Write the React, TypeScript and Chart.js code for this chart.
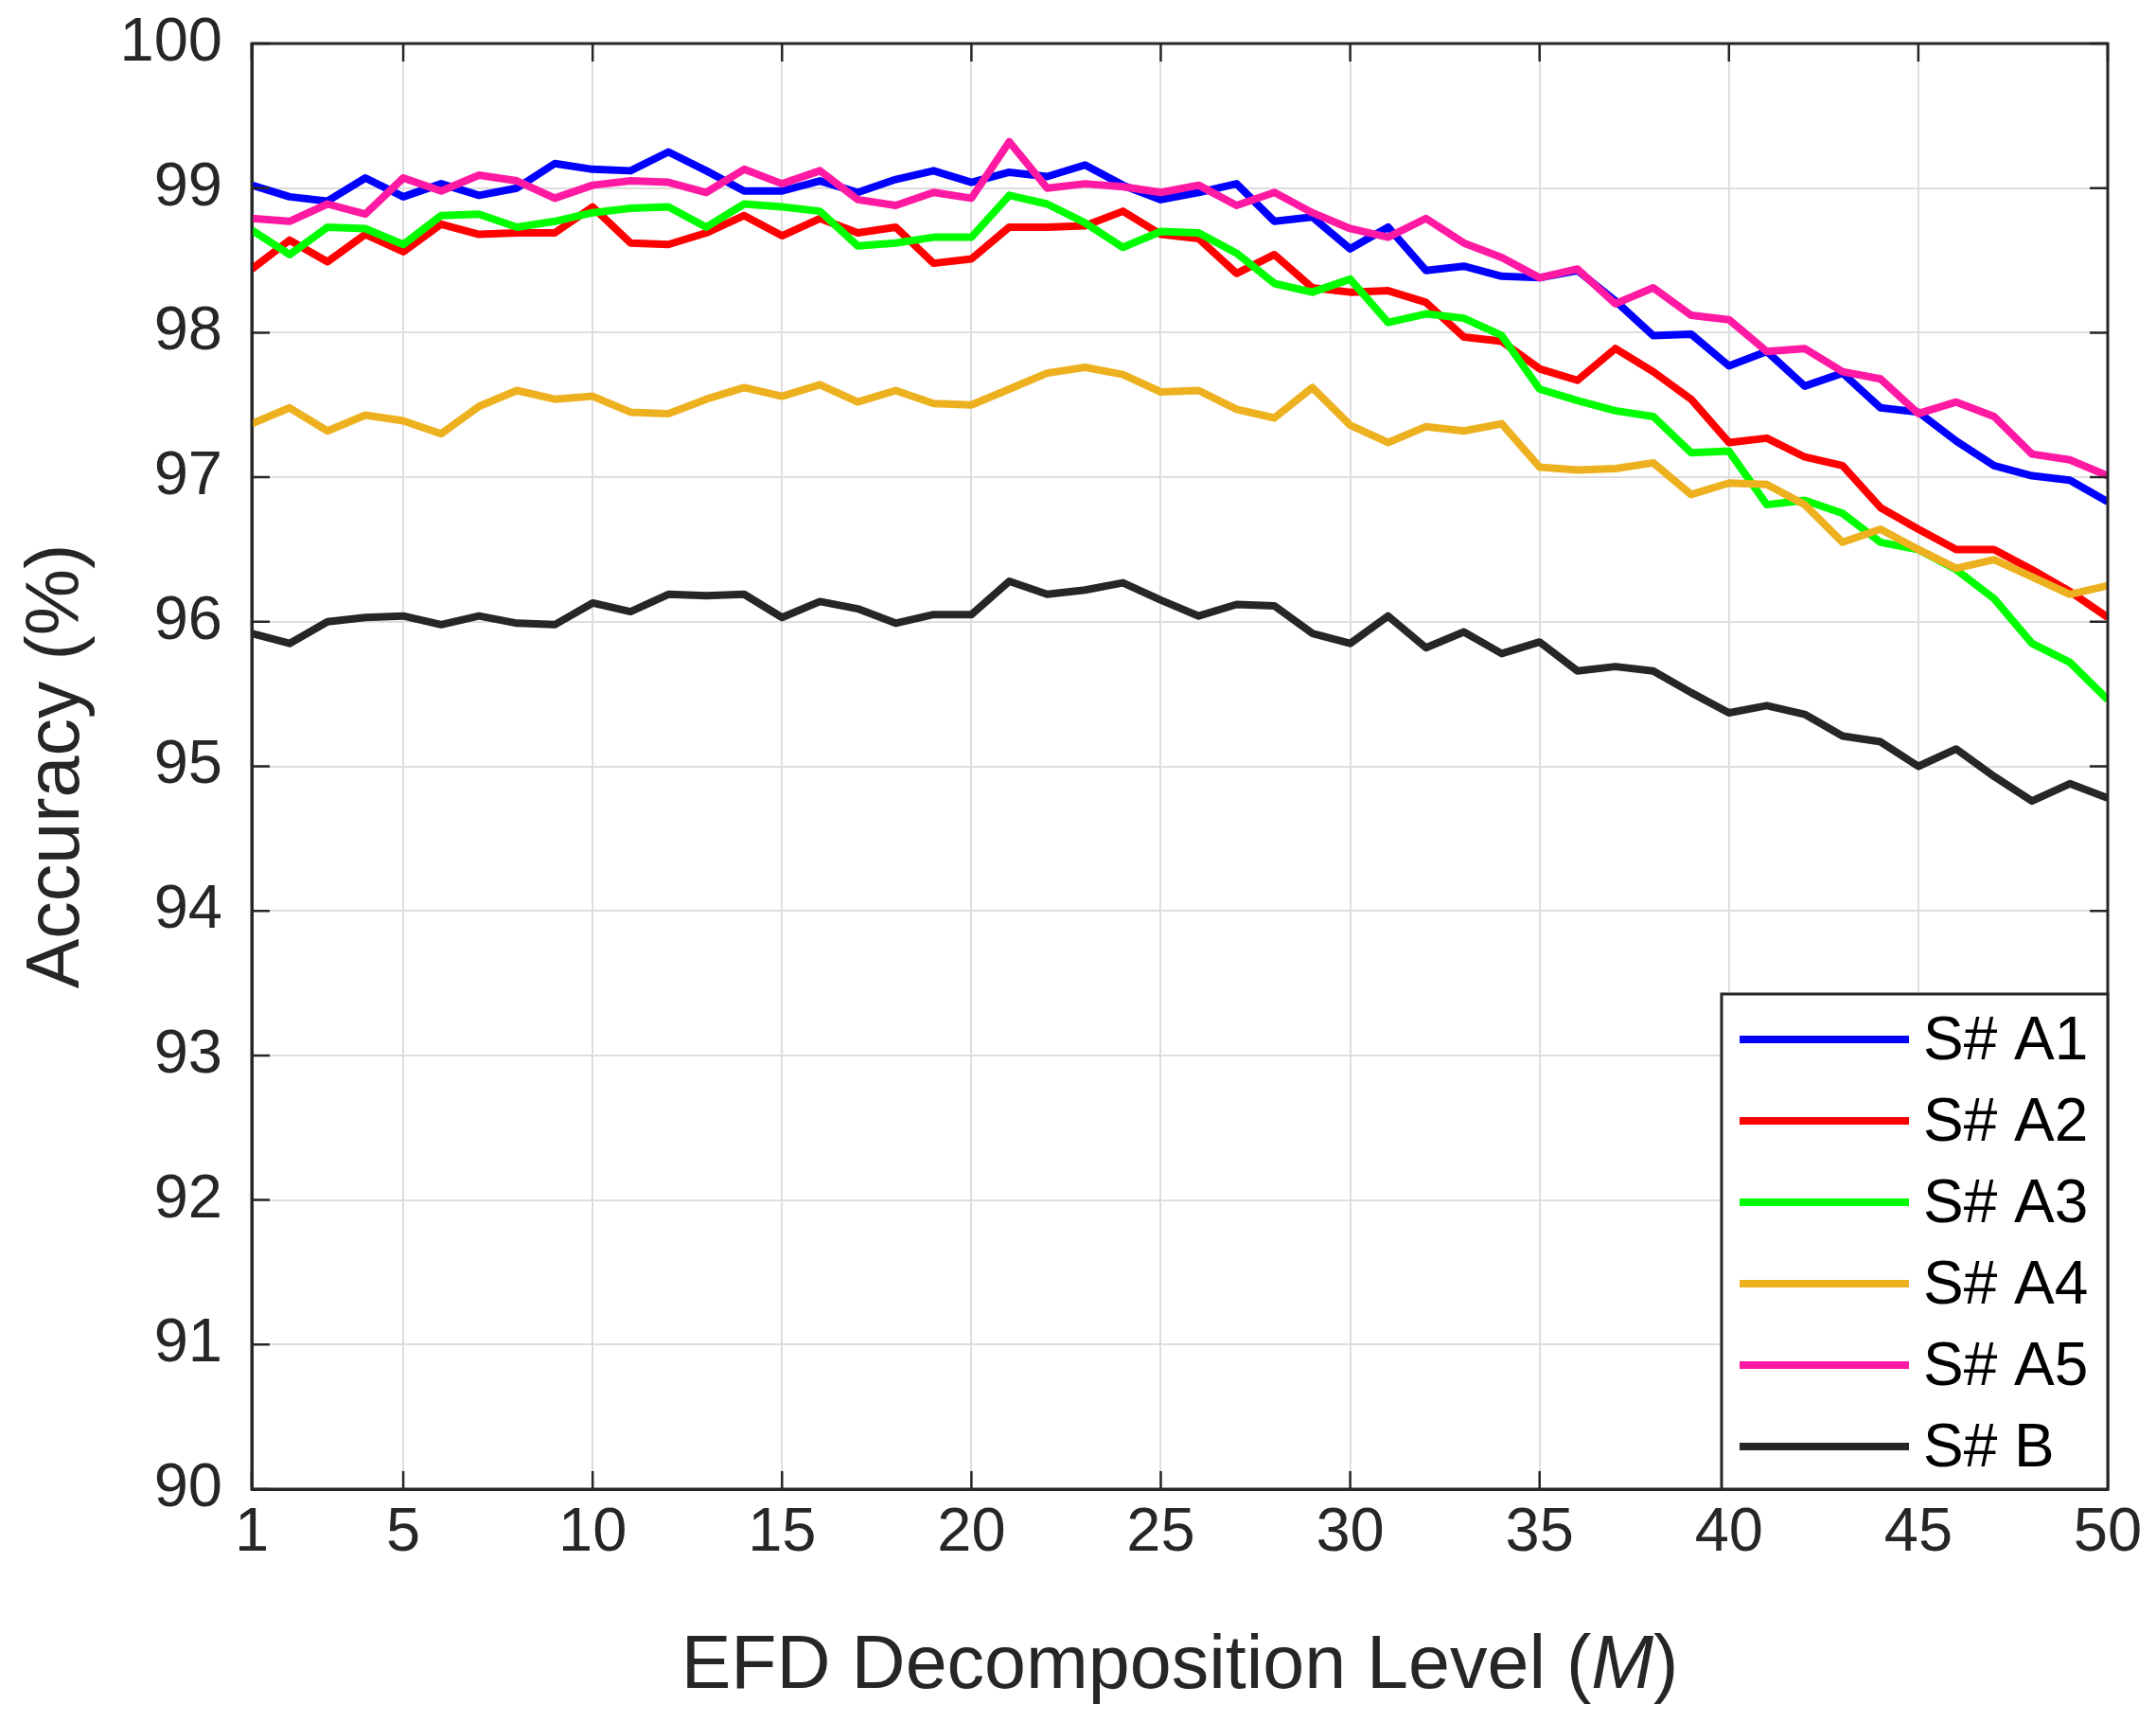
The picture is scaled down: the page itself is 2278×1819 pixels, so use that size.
import { useEffect, useRef } from 'react';
import Chart from 'chart.js/auto';

// EFD decomposition level M
const levels = [
  1, 2, 3, 4, 5, 6, 7, 8, 9, 10, 11, 12, 13, 14, 15, 16, 17, 18, 19, 20, 21, 22, 23, 24, 25,
  26, 27, 28, 29, 30, 31, 32, 33, 34, 35, 36, 37, 38, 39, 40, 41, 42, 43, 44, 45, 46, 47, 48, 49, 50,
];

const xTickValues = [1, 5, 10, 15, 20, 25, 30, 35, 40, 45, 50];

const seriesNames = ['S# A1', 'S# A2', 'S# A3', 'S# A4', 'S# A5', 'S# B'];
const seriesColors = ['#0000ff', '#ff0000', '#00ff00', '#edb120', '#ff19a3', '#262626'];

const accA1 = [
  99.02, 98.94, 98.91, 99.07, 98.94, 99.03, 98.95, 99.0, 99.17, 99.13,
  99.12, 99.25, 99.12, 98.98, 98.98, 99.05, 98.97, 99.06, 99.12, 99.04,
  99.11, 99.08, 99.16, 99.02, 98.92, 98.97, 99.03, 98.77, 98.8, 98.58,
  98.73, 98.43, 98.46, 98.39, 98.38, 98.43, 98.22, 97.98, 97.99, 97.77,
  97.87, 97.63, 97.72, 97.48, 97.45, 97.25, 97.08, 97.01, 96.98, 96.83,
];

const accA2 = [
  98.44, 98.64, 98.49, 98.68, 98.56, 98.75, 98.68, 98.69, 98.69, 98.87,
  98.62, 98.61, 98.69, 98.81, 98.67, 98.79, 98.69, 98.73, 98.48, 98.51,
  98.73, 98.73, 98.74, 98.84, 98.68, 98.65, 98.41, 98.54, 98.31, 98.28,
  98.29, 98.21, 97.97, 97.94, 97.75, 97.67, 97.89, 97.73, 97.54, 97.24,
  97.27, 97.14, 97.08, 96.79, 96.64, 96.5, 96.5, 96.36, 96.21, 96.03,
];

const accA3 = [
  98.71, 98.54, 98.73, 98.72, 98.61, 98.81, 98.82, 98.73, 98.77, 98.83,
  98.86, 98.87, 98.73, 98.89, 98.87, 98.84, 98.6, 98.62, 98.66, 98.66,
  98.95, 98.89, 98.76, 98.59, 98.7, 98.69, 98.55, 98.34, 98.28, 98.37,
  98.07, 98.13, 98.1, 97.98, 97.61, 97.53, 97.46, 97.42, 97.17, 97.18,
  96.81, 96.84, 96.75, 96.55, 96.5, 96.36, 96.16, 95.85, 95.72, 95.46,
];

const accA4 = [
  97.37, 97.48, 97.32, 97.43, 97.39, 97.3, 97.49, 97.6, 97.54, 97.56,
  97.45, 97.44, 97.54, 97.62, 97.56, 97.64, 97.52, 97.6, 97.51, 97.5,
  97.61, 97.72, 97.76, 97.71, 97.59, 97.6, 97.47, 97.41, 97.62, 97.36,
  97.24, 97.35, 97.32, 97.37, 97.07, 97.05, 97.06, 97.1, 96.88, 96.96,
  96.95, 96.81, 96.55, 96.64, 96.5, 96.37, 96.43, 96.31, 96.19, 96.25,
];

const accA5 = [
  98.79, 98.77, 98.89, 98.82, 99.07, 98.98, 99.09, 99.05, 98.93, 99.02,
  99.05, 99.04, 98.97, 99.13, 99.03, 99.12, 98.92, 98.88, 98.97, 98.93,
  99.32, 99.0, 99.03, 99.01, 98.97, 99.02, 98.88, 98.97, 98.83, 98.72,
  98.66, 98.79, 98.62, 98.52, 98.38, 98.44, 98.2, 98.31, 98.12, 98.09,
  97.87, 97.89, 97.73, 97.68, 97.44, 97.52, 97.42, 97.16, 97.12, 97.01,
];

const accB = [
  95.92, 95.85, 96.0, 96.03, 96.04, 95.98, 96.04, 95.99, 95.98, 96.13,
  96.07, 96.19, 96.18, 96.19, 96.03, 96.14, 96.09, 95.99, 96.05, 96.05,
  96.28, 96.19, 96.22, 96.27, 96.15, 96.04, 96.12, 96.11, 95.92, 95.85,
  96.04, 95.82, 95.93, 95.78, 95.86, 95.66, 95.69, 95.66, 95.51, 95.37,
  95.42, 95.36, 95.21, 95.17, 95.0, 95.12, 94.93, 94.76, 94.88, 94.78,
];

const allSeries = [accA1, accA2, accA3, accA4, accA5, accB];

const FONT = "'Liberation Sans', Arial, Helvetica, sans-serif";
const INK = '#262626';

// axes box, inward tick marks, legend and the x-axis title (with italic M)
const matlabAxes = {
  id: 'matlabAxes',
  afterDraw(chart: any) {
    const { ctx, chartArea: a, scales } = chart;
    const tick = 19;
    ctx.save();
    ctx.strokeStyle = INK;
    ctx.lineWidth = 3;
    ctx.strokeRect(a.left, a.top, a.right - a.left, a.bottom - a.top);

    ctx.lineWidth = 2.5;
    ctx.beginPath();
    scales.x.ticks.forEach((t: any) => {
      const px = scales.x.getPixelForValue(t.value);
      ctx.moveTo(px, a.bottom);
      ctx.lineTo(px, a.bottom - tick);
      ctx.moveTo(px, a.top);
      ctx.lineTo(px, a.top + tick);
    });
    scales.y.ticks.forEach((t: any) => {
      const py = scales.y.getPixelForValue(t.value);
      ctx.moveTo(a.left, py);
      ctx.lineTo(a.left + tick, py);
      ctx.moveTo(a.right, py);
      ctx.lineTo(a.right - tick, py);
    });
    ctx.stroke();

    // legend
    const lw = 408;
    const lh = 523;
    const lx = a.right - lw;
    const ly = a.bottom - lh;
    ctx.fillStyle = '#ffffff';
    ctx.fillRect(lx, ly, lw, lh);
    ctx.lineWidth = 3;
    ctx.strokeStyle = INK;
    ctx.strokeRect(lx, ly, lw, lh);
    ctx.font = `64px ${FONT}`;
    ctx.textBaseline = 'middle';
    ctx.textAlign = 'left';
    chart.data.datasets.forEach((ds: any, i: number) => {
      const cy = ly + 48 + i * 86;
      ctx.strokeStyle = ds.borderColor;
      ctx.lineWidth = 8;
      ctx.beginPath();
      ctx.moveTo(lx + 19, cy);
      ctx.lineTo(lx + 198, cy);
      ctx.stroke();
      ctx.fillStyle = '#000000';
      ctx.fillText(ds.label, lx + 213, cy + 3);
    });

    // x title
    const parts = [
      { text: 'EFD Decomposition Level (', font: `79px ${FONT}` },
      { text: 'M', font: `italic 79px ${FONT}` },
      { text: ')', font: `79px ${FONT}` },
    ];
    let total = 0;
    parts.forEach((p) => {
      ctx.font = p.font;
      total += ctx.measureText(p.text).width;
    });
    let x = (a.left + a.right) / 2 - total / 2;
    const y = chart.height - 58;
    ctx.fillStyle = INK;
    parts.forEach((p) => {
      ctx.font = p.font;
      ctx.fillText(p.text, x, y);
      x += ctx.measureText(p.text).width;
    });
    ctx.restore();
  },
};

const App = () => {
  const canvasRef = useRef<HTMLCanvasElement | null>(null);
  const chartRef = useRef<Chart | null>(null);

  useEffect(() => {
    if (!canvasRef.current) return;
    const ctx = canvasRef.current.getContext('2d');
    if (!ctx) return;

    const datasets = seriesNames.map((name, i) => ({
      label: name,
      data: levels.map((m, j) => ({ x: m, y: allSeries[i][j] })),
      borderColor: seriesColors[i],
      backgroundColor: seriesColors[i],
      borderWidth: 8,
      borderJoinStyle: 'round' as const,
      pointRadius: 0,
      tension: 0,
      fill: false,
      order: seriesNames.length - i,
    }));

    chartRef.current = new Chart(ctx, {
      type: 'line',
      data: { datasets },
      options: {
        animation: false,
        responsive: true,
        maintainAspectRatio: false,
        layout: { padding: { top: 46, right: 51, left: 0, bottom: 0 } },
        plugins: {
          legend: { display: false },
          tooltip: { enabled: false },
        },
        scales: {
          x: {
            type: 'linear',
            min: 1,
            max: 50,
            afterBuildTicks: (scale: any) => {
              scale.ticks = xTickValues.map((v) => ({ value: v }));
            },
            afterFit: (scale: any) => {
              scale.height = 246;
              scale.paddingLeft = 0;
              scale.paddingRight = 0;
            },
            grid: { color: '#dedede', lineWidth: 2, drawTicks: false },
            border: { display: true, color: INK, width: 3 },
            ticks: {
              padding: 8,
              color: INK,
              font: { family: FONT, size: 65 },
              maxRotation: 0,
              autoSkip: false,
            },
          },
          y: {
            min: 90,
            max: 100,
            afterFit: (scale: any) => {
              scale.width = 266;
              scale.paddingTop = 0;
              scale.paddingBottom = 0;
            },
            grid: { color: '#dedede', lineWidth: 2, drawTicks: false },
            border: { display: true, color: INK, width: 3 },
            ticks: {
              stepSize: 1,
              padding: 31,
              color: INK,
              font: { family: FONT, size: 65 },
            },
            title: {
              display: true,
              text: 'Accuracy (%)',
              color: INK,
              font: { family: FONT, size: 79 },
              padding: { top: 14, bottom: 0 },
            },
          },
        },
      },
      plugins: [matlabAxes],
    });

    return () => {
      if (chartRef.current) {
        chartRef.current.destroy();
        chartRef.current = null;
      }
    };
  }, []);

  return (
    <div
      style={{
        position: 'absolute',
        left: 0,
        top: 0,
        width: '2278px',
        height: '1819px',
        background: '#ffffff',
      }}
    >
      <canvas ref={canvasRef} />
    </div>
  );
};

export default App;
